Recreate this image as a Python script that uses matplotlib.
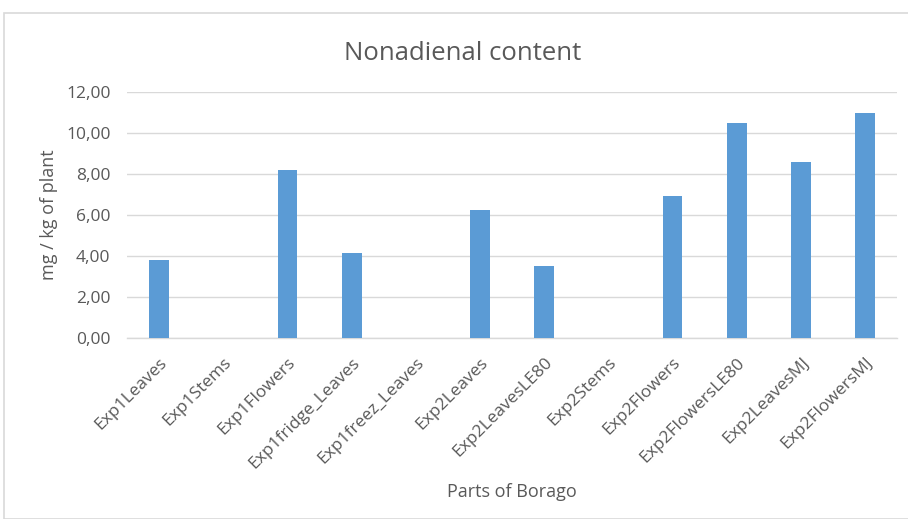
import matplotlib.pyplot as plt
from matplotlib.patches import Rectangle
from matplotlib.ticker import FuncFormatter

# data
parts = ['Exp1Leaves', 'Exp1Stems', 'Exp1Flowers', 'Exp1fridge_Leaves',
         'Exp1freez_Leaves', 'Exp2Leaves', 'Exp2LeavesLE80', 'Exp2Stems',
         'Exp2Flowers', 'Exp2FlowersLE80', 'Exp2LeavesMJ', 'Exp2FlowersMJ']
nonadienal = [3.82, 0, 8.20, 4.12, 0, 6.26, 3.52, 0, 6.90, 10.50, 8.56, 10.95]
yticks = [0, 2, 4, 6, 8, 10, 12]

plt.rcParams['font.family'] = ['Open Sans', 'DejaVu Sans']
grey = '#595959'

fig = plt.figure(figsize=(9.08, 5.19), dpi=100)
fig.patches.append(Rectangle((4/908, 0), 1.1, 1 - 13/519, transform=fig.transFigure,
                             fill=False, edgecolor='#d9d9d9', linewidth=1.2))
ax = fig.add_axes([0.140, 0.349, 0.848, 0.474])

x = range(len(parts))
ax.bar(x, nonadienal, width=0.31, color='#5b9bd5', zorder=3)

ax.set_xlim(-0.5, len(parts) - 0.5)
ax.set_ylim(0, 12)
ax.set_yticks(yticks)
ax.yaxis.set_major_formatter(FuncFormatter(lambda v, p: f'{v:.2f}'.replace('.', ',')))
ax.grid(axis='y', color='#d9d9d9', linewidth=1, zorder=0)

for s in ['top', 'right', 'left']:
    ax.spines[s].set_visible(False)
ax.spines['bottom'].set_color('#d9d9d9')
ax.spines['bottom'].set_linewidth(1)
ax.tick_params(length=0, colors=grey, labelsize=12.5)
ax.tick_params(axis='y', pad=12)

ax.set_xticks(list(x))
ax.set_xticklabels(parts, rotation=45, ha='right', rotation_mode='anchor')
ax.tick_params(axis='x', pad=12)

fig.text(463/908, 1 - 53/519, 'Nonadienal content', fontsize=18.5, color=grey,
         ha='center', va='center')
ax.set_ylabel('mg / kg of plant', fontsize=13, color=grey, labelpad=6)
ax.set_xlabel('Parts of Borago', fontsize=13, color=grey, labelpad=8)

fig.savefig('out.png', dpi=100)
